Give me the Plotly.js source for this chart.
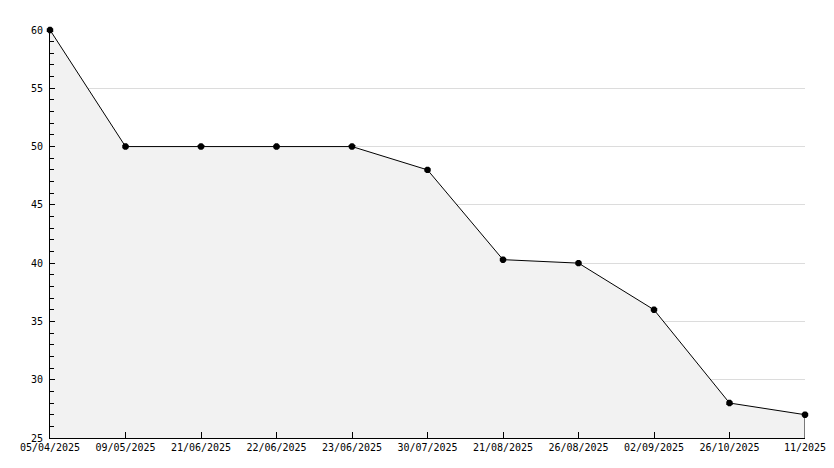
<!DOCTYPE html>
<html>
<head>
<meta charset="utf-8">
<script src="https://cdn.plot.ly/plotly-3.0.1.min.js"></script>
<style>html,body{margin:0;padding:0;background:#fff;}#chart{width:834px;height:468px;}</style>
</head>
<body>
<div id="chart"></div>
<script>
const dates = ["05/04/2025","09/05/2025","21/06/2025","22/06/2025","23/06/2025","30/07/2025","21/08/2025","26/08/2025","02/09/2025","26/10/2025","11/2025"];
const values = [60, 50, 50, 50, 50, 48, 40.3, 40, 36, 28, 27];
const yMin = 25, yMax = 60;

const lastX = dates[dates.length - 1];
const lastY = values[values.length - 1];

const traces = [
  {
    x: dates, y: values, type: 'scatter', mode: 'lines',
    fill: 'tozeroy', fillcolor: '#f2f2f2',
    line: {color: '#000', width: 1},
    hoverinfo: 'skip'
  },
  {
    x: [lastX, lastX], y: [yMin, lastY], type: 'scatter', mode: 'lines',
    line: {color: '#000', width: 1}, hoverinfo: 'skip', showlegend: false
  },
  {
    x: dates, y: values, type: 'scatter', mode: 'markers',
    marker: {color: '#000', size: 7, symbol: 'octagon'},
    cliponaxis: false,
    hoverinfo: 'skip'
  }
];

const font = {family: 'DejaVu Sans Mono, monospace', size: 10, color: '#000'};

const layout = {
  width: 834, height: 468,
  margin: {l: 50, r: 29, t: 30, b: 30},
  paper_bgcolor: '#fff', plot_bgcolor: '#fff',
  showlegend: false,
  font: font,
  xaxis: {
    type: 'category', categoryorder: 'array', categoryarray: dates,
    range: [0, dates.length - 1],
    showline: true, linecolor: '#000', linewidth: 1,
    ticks: 'inside', ticklen: 6, tickcolor: '#000',
    showgrid: false, zeroline: false, tickfont: font,
    fixedrange: true
  },
  yaxis: {
    range: [yMin, yMax], dtick: 5, tick0: 0,
    showline: true, linecolor: '#000', linewidth: 1,
    ticks: 'inside', ticklen: 5, tickcolor: '#000',
    showgrid: true, gridcolor: '#dcdcdc', gridwidth: 1,
    zeroline: false, tickfont: font, ticklabelstandoff: 4,
    minor: {dtick: 1, ticks: 'inside', ticklen: 4, tickcolor: '#000', showgrid: false},
    fixedrange: true
  }
};

Plotly.newPlot('chart', traces, layout, {displayModeBar: false, staticPlot: true});
</script>
</body>
</html>
